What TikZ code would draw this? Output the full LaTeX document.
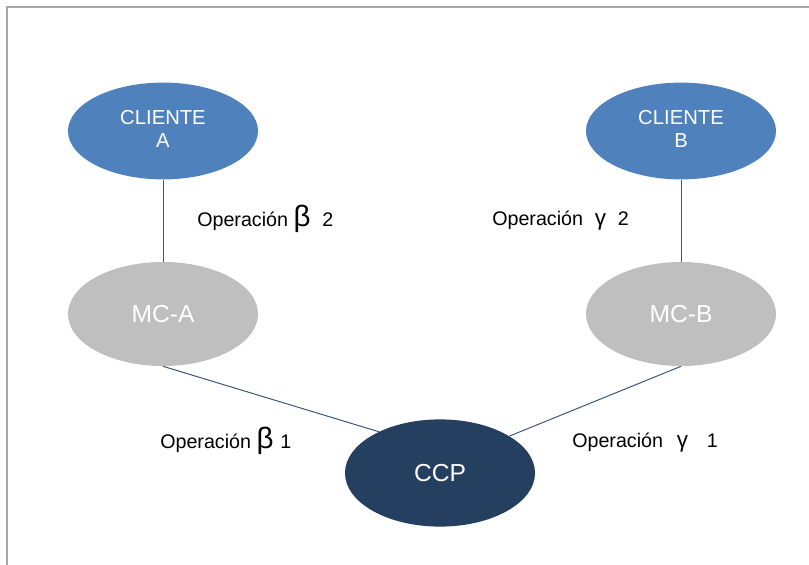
\documentclass[tikz,border=0pt]{standalone}
\usepackage{fontspec}
\setmainfont{Liberation Sans}
\usetikzlibrary{shapes.geometric}

\definecolor{clienteblue}{HTML}{4F81BD}
\definecolor{mcgray}{HTML}{BFBFBF}
\definecolor{ccpnavy}{HTML}{243F60}
\definecolor{linkblue}{HTML}{3A5577}
\definecolor{framegray}{HTML}{A6A6A6}

\begin{document}
\begin{tikzpicture}[x=0.025cm, y=-0.025cm, font=\fontsize{14}{17}\selectfont,
  entity/.style={ellipse, minimum width=4.75cm, text=white, align=center, inner sep=0pt},
  cliente/.style={entity, fill=clienteblue, minimum height=2.42cm, font=\fontsize{14.4}{16.5}\selectfont},
  mc/.style={entity, fill=mcgray, minimum height=2.6cm, font=\fontsize{17.5}{20}\selectfont},
  ccpnode/.style={entity, fill=ccpnavy, minimum height=2.68cm, font=\fontsize{17.5}{20}\selectfont},
  link/.style={draw=linkblue, line width=0.7pt},
  oplabel/.style={anchor=west, inner sep=0pt}]
  \useasboundingbox (0,0) rectangle (809,565);
  \draw[framegray, line width=1.2pt] (7,565) -- (7,7) -- (809,7);

  \node[cliente] (clientea) at (163,131) {\raisebox{7pt}{\begin{tabular}{@{}c@{}}CLIENTE\\A\end{tabular}}};
  \node[cliente] (clienteb) at (681,131) {\raisebox{7pt}{\begin{tabular}{@{}c@{}}CLIENTE\\B\end{tabular}}};
  \node[mc] (mca) at (163,314) {MC-A};
  \node[mc] (mcb) at (681,314) {MC-B};
  \node[ccpnode] (ccp) at (440,473) {CCP};

  \draw[link] (clientea) -- (mca);
  \draw[link] (clienteb) -- (mcb);
  \draw[link] (mca.south) -- (ccp.146);
  \draw[link] (mcb.south) -- (ccp.28);

  \node[oplabel] (opb2) at (197,219) {Operación {\fontsize{21}{21}\selectfont β}\hspace{0.6em}2};
  \node[oplabel] (opg2) at (492,221) {Operación\hspace{0.6em}{\fontsize{16}{16}\selectfont γ}\hspace{0.6em}2};
  \node[oplabel] (opb1) at (160,441) {Operación {\fontsize{21}{21}\selectfont β}\hspace{0.35em}1};
  \node[oplabel] (opg1) at (572,443) {Operación\hspace{0.7em}{\fontsize{16}{16}\selectfont γ}\hspace{0.95em}1};
\end{tikzpicture}
\end{document}
